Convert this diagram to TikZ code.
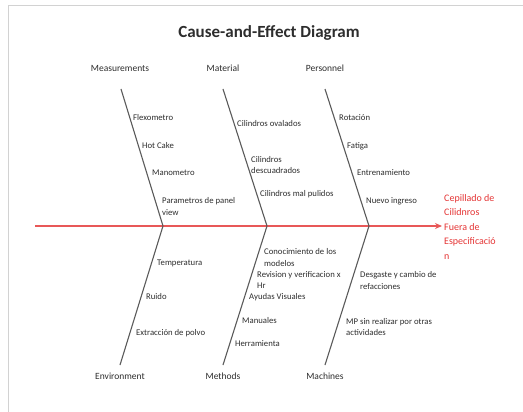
\documentclass[tikz,border=0pt]{standalone}
\usepackage{fontspec}
\setmainfont{Carlito}
\usetikzlibrary{arrows.meta}
\definecolor{bonegray}{RGB}{90,90,90}
\definecolor{txtgray}{RGB}{45,45,45}
\definecolor{spinered}{RGB}{232,88,88}
\definecolor{effred}{RGB}{228,52,52}
\definecolor{framegray}{RGB}{210,210,210}
\tikzset{
  item/.style={anchor=west, inner sep=0pt, text=txtgray, align=left,
    font=\fontsize{8.7}{11.5}\selectfont},
  cat/.style={inner sep=0pt, text=txtgray, font=\fontsize{9.5}{11}\selectfont},
  bone/.style={draw=bonegray, line width=1.1pt},
  spine/.style={draw=spinered, line width=1.3pt, -{Stealth[length=7pt,width=6pt]}},
  effect/.style={anchor=west, inner sep=0pt, text=effred, align=left,
    font=\fontsize{10}{14.5}\selectfont},
  frameline/.style={draw=framegray, line width=0.8pt}
}
\begin{document}
\begin{tikzpicture}[x=1pt,y=-1pt]
\useasboundingbox (0,0) rectangle (523,412);
% frame
\coordinate (f1) at (8,412);
\coordinate (f2) at (8,5);
\coordinate (f3) at (523,5);
\draw[frameline] (f1) -- (f2) -- (f3);
% title
\node[inner sep=0pt, text=txtgray, font=\fontsize{17}{19}\selectfont\bfseries] (title) at (269,33) {Cause-and-Effect Diagram};
% spine
\coordinate (tail) at (35,226);
\coordinate (head) at (442,226);
\draw[spine] (tail) -- (head);
% junctions
\coordinate (j1) at (163,226);
\coordinate (j2) at (267,226);
\coordinate (j3) at (369,226);
% top ends
\coordinate (t1) at (121,89);
\coordinate (t2) at (223,89);
\coordinate (t3) at (325,89);
% bottom ends
\coordinate (b1) at (120,365);
\coordinate (b2) at (223,365);
\coordinate (b3) at (325,365);
\draw[bone] (t1) -- (j1) -- (b1);
\draw[bone] (t2) -- (j2) -- (b2);
\draw[bone] (t3) -- (j3) -- (b3);
% category labels
\node[cat] (meas) at (120,68) {Measurements};
\node[cat] (mat) at (223,68) {Material};
\node[cat] (pers) at (325,68) {Personnel};
\node[cat] (env) at (120,376) {Environment};
\node[cat] (meth) at (223,376) {Methods};
\node[cat] (mach) at (325,376) {Machines};
% Measurements items
\node[item] (m1) at (133,118) {Flexometro};
\node[item] (m2) at (142,146) {Hot Cake};
\node[item] (m3) at (152,173) {Manometro};
\node[item] (m4) at (162,206.5) {Parametros de panel\\view};
% Material items
\node[item] (a1) at (237,124) {Cilindros ovalados};
\node[item] (a2) at (251,165) {Cilindros\\descuadrados};
\node[item] (a3) at (260,194) {Cilindros mal pulidos};
% Personnel items
\node[item] (p1) at (339,118) {Rotación};
\node[item] (p2) at (347,146) {Fatiga};
\node[item] (p3) at (357,173) {Entrenamiento};
\node[item] (p4) at (366,201) {Nuevo ingreso};
% Environment items
\node[item] (e1) at (157,263) {Temperatura};
\node[item] (e2) at (146,297) {Ruido};
\node[item] (e3) at (136,333) {Extracción de polvo};
% Methods items
\node[item] (h1) at (264,257.5) {Conocimiento de los\\modelos};
\node[item] (h2) at (257,280) {Revision y verificacion x\\Hr};
\node[item] (h3) at (249,297) {Ayudas Visuales};
\node[item] (h4) at (242,321) {Manuales};
\node[item] (h5) at (235,344) {Herramienta};
% Machines items
\node[item] (c1) at (360,280.5) {Desgaste y cambio de\\refacciones};
\node[item] (c2) at (346,327) {MP sin realizar por otras\\actividades};
% effect
\node[effect] (eff) at (444,227) {Cepillado de\\Cilidnros\\Fuera de\\Especificació\\n};
\end{tikzpicture}
\end{document}
